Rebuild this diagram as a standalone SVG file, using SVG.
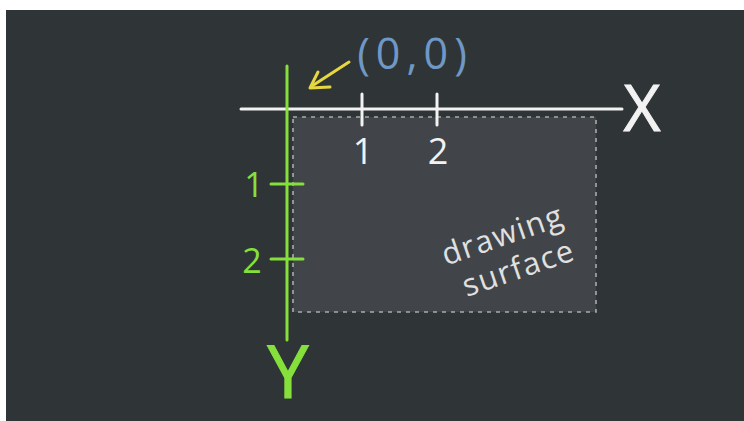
<svg xmlns="http://www.w3.org/2000/svg" width="744" height="421" viewBox="0 0 744 421">
<style>
.lbl{font-family:"Open Sans","DejaVu Sans",sans-serif;font-weight:400}
.w{fill:#f2f2f2}
.g{fill:#86e03c}
</style>
<rect x="0" y="0" width="744" height="421" fill="#ffffff"/>
<rect x="6" y="10" width="738" height="411" fill="#2f3437"/>
<g id="surface">
<rect x="293" y="117" width="303" height="195" fill="#414549" stroke="#a9abad" stroke-width="1.6" stroke-dasharray="4,5"/>
<text class="lbl" transform="translate(506,245) rotate(-19)" text-anchor="middle" font-size="31" fill="#e0e0e0" letter-spacing="1.5">drawing</text>
<text class="lbl" transform="translate(522,278) rotate(-19)" text-anchor="middle" font-size="31" fill="#e0e0e0" letter-spacing="1.5">surface</text>
</g>
<g id="connectors">
<line x1="241" y1="109" x2="622" y2="109" stroke="#f2f2f2" stroke-width="3" stroke-linecap="round"/>
<line x1="362" y1="94" x2="362" y2="125" stroke="#f2f2f2" stroke-width="3" stroke-linecap="round"/>
<line x1="437" y1="94" x2="437" y2="125" stroke="#f2f2f2" stroke-width="3" stroke-linecap="round"/>
<line x1="287" y1="66" x2="287" y2="340" stroke="#86e03c" stroke-width="3" stroke-linecap="round"/>
<line x1="271" y1="184" x2="303" y2="184" stroke="#86e03c" stroke-width="3" stroke-linecap="round"/>
<line x1="271" y1="259" x2="303" y2="259" stroke="#86e03c" stroke-width="3" stroke-linecap="round"/>
<g stroke="#e6d640" stroke-width="3" stroke-linecap="round" stroke-linejoin="round" fill="none">
<line x1="349" y1="62" x2="312" y2="86"/>
<polyline points="318,72 310,88 330,87"/>
</g>
</g>
<g id="x-axis-labels">
<text class="lbl w" x="363" y="164" text-anchor="middle" font-size="36">1</text>
<text class="lbl w" x="438" y="164" text-anchor="middle" font-size="36">2</text>
<text class="lbl w" x="642" y="131" text-anchor="middle" font-size="64" stroke="#f2f2f2" stroke-width="1">X</text>
</g>
<g id="y-axis-labels">
<text class="lbl g" x="254" y="197" text-anchor="middle" font-size="34">1</text>
<text class="lbl g" x="252" y="273" text-anchor="middle" font-size="34">2</text>
<text class="lbl g" x="288" y="398" text-anchor="middle" font-size="74" stroke="#86e03c" stroke-width="1">Y</text>
</g>
<g id="origin-label">
<text class="lbl" x="415" y="69" text-anchor="middle" font-size="43" fill="#6f98c6" letter-spacing="6">(0,0)</text>
</g>
</svg>
